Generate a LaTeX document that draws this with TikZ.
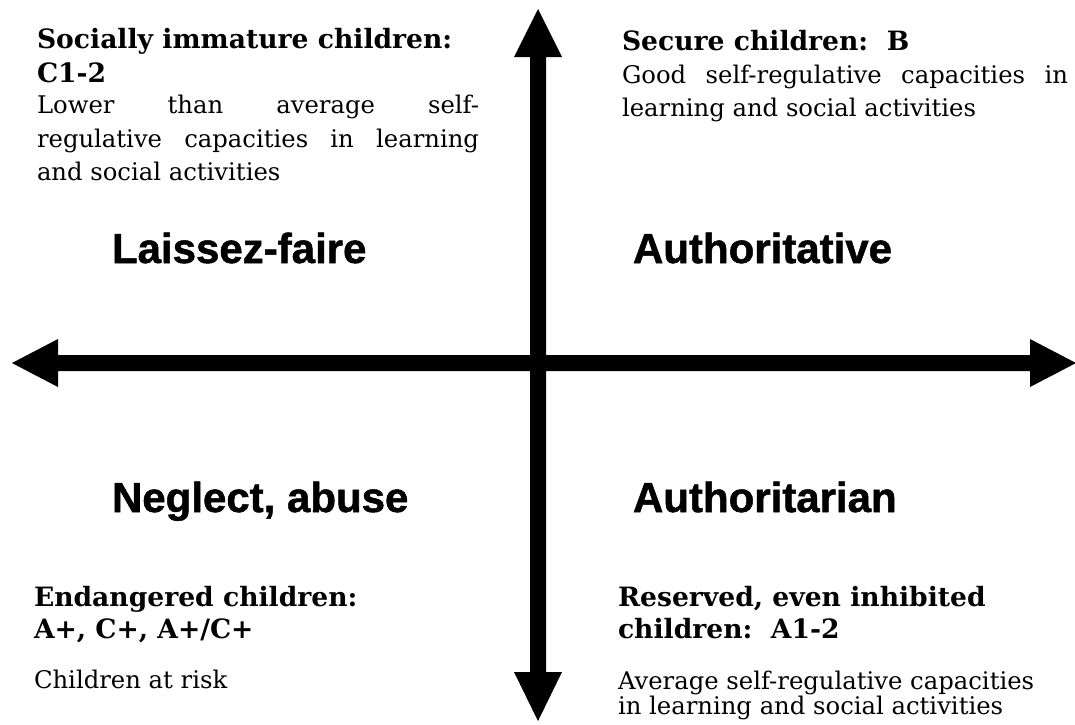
\documentclass[tikz,border=0pt]{standalone}
\usepackage{fontspec}
\setmainfont{DejaVu Serif}[BoldFont={DejaVu Serif Bold}]
\newfontfamily\labelfont{Liberation Sans}[BoldFont={Liberation Sans Bold}, BoldFeatures={FakeBold=1.2}]
\begin{document}
\begin{tikzpicture}[x=1pt,y=-1pt,
  bodytext/.style={anchor=base west, inner sep=0pt, outer sep=0pt, font=\fontsize{24.3}{33}\selectfont},
  headtext/.style={anchor=base west, inner sep=0pt, outer sep=0pt, font=\fontsize{26.6}{33}\selectfont\bfseries},
  biglabel/.style={anchor=base west, inner sep=0pt, outer sep=0pt, font=\labelfont\bfseries\fontsize{42}{50}\selectfont},
  axisfill/.style={fill=black}]
\useasboundingbox (0,0) rectangle (1075,724);
% vertical axis
\fill[axisfill] (538,9) -- (562,57) -- (546,57) -- (546,672) -- (562,672) -- (538,721)
  -- (514,672) -- (530,672) -- (530,57) -- (514,57) -- cycle;
% horizontal axis
\fill[axisfill] (12,363) -- (58,339) -- (58,355) -- (1030,355) -- (1030,339) -- (1076,363)
  -- (1030,387) -- (1030,371) -- (58,371) -- (58,387) -- cycle;
% quadrant labels
\node[biglabel] (lf) at (112,263) {Laissez-faire};
\node[biglabel] (av) at (633,263) {Authoritative};
\node[biglabel] (ng) at (112,512) {Neglect, abuse};
\node[biglabel] (ar) at (633,512) {Authoritarian};
% top left
\node[headtext] (tl1) at (37,48) {Socially immature children:};
\node[headtext] (tl2) at (37,82) {C1-2};
\node[bodytext] (tl3) at (37,113) {\makebox[442pt][s]{Lower than average self-}};
\node[bodytext] (tl4) at (37,147) {\makebox[442pt][s]{regulative capacities in learning}};
\node[bodytext] (tl5) at (37,180) {and social activities};
% top right
\node[headtext] (tr1) at (622,50) {Secure children:\ \ B};
\node[bodytext] (tr2) at (622,83) {\makebox[446pt][s]{Good self-regulative capacities in}};
\node[bodytext] (tr3) at (622,116) {learning and social activities};
% bottom left
\node[headtext] (bl1) at (34,606) {Endangered children:};
\node[headtext] (bl2) at (34,638) {A+, C+, A+/C+};
\node[bodytext] (bl3) at (34,688) {Children at risk};
% bottom right
\node[headtext] (br1) at (618,606) {Reserved, even inhibited};
\node[headtext] (br2) at (618,638) {children:\ \ A1-2};
\node[bodytext] (br3) at (618,689) {Average self-regulative capacities};
\node[bodytext] (br4) at (618,714) {in learning and social activities};
\end{tikzpicture}
\end{document}
